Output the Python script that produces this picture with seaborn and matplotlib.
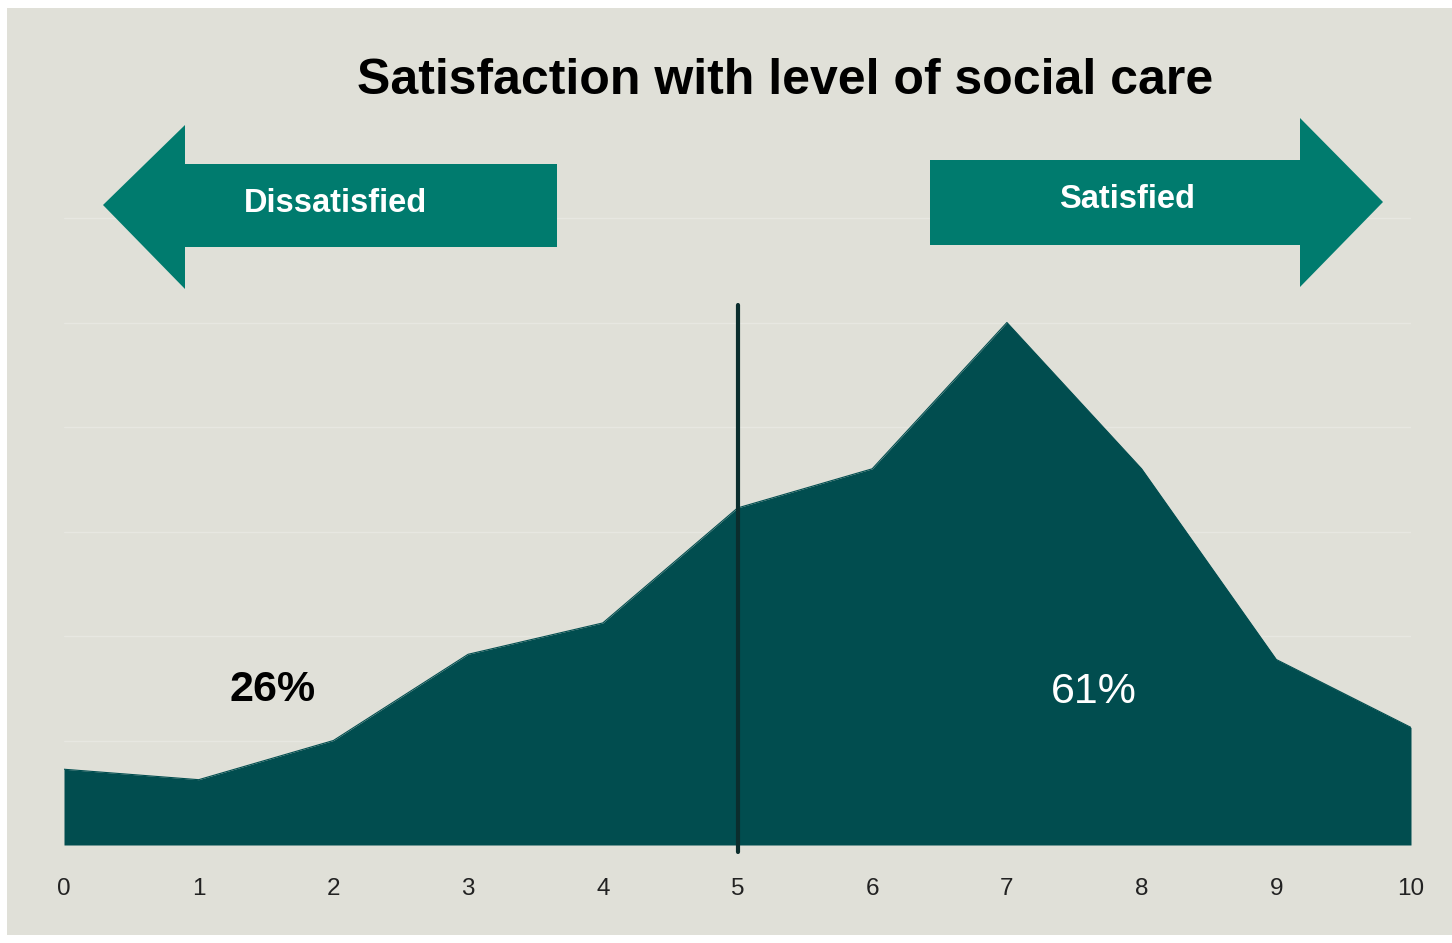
import matplotlib
matplotlib.use("Agg")
import matplotlib.pyplot as plt
from matplotlib.patches import Polygon, Rectangle
import seaborn as sns
import pandas as pd

# ---- data ----
scores = [0, 1, 2, 3, 4, 5, 6, 7, 8, 9, 10]
share_pct = [2.9, 2.5, 4.0, 7.3, 8.5, 12.9, 14.4, 20.0, 14.4, 7.1, 4.5]
tick_labels = [str(s) for s in scores]
title = "Satisfaction with level of social care"
left_label = "Dissatisfied"
right_label = "Satisfied"
dissatisfied_total = "26%"
satisfied_total = "61%"
grid_levels = [4, 8, 12, 16, 20, 24]

# ---- style ----
BG = "#e0e0d8"
AREA = "#014d4f"
ARROW = "#007b6e"
VLINE = "#0b2d2d"

sns.set_theme(style="white")
plt.rcParams["font.family"] = ["Liberation Sans", "DejaVu Sans"]

W, H = 1452, 943
fig = plt.figure(figsize=(W / 100, H / 100), dpi=100)
fig.patch.set_facecolor("white")

def fx(px):
    return px / W

def fy(py):
    return 1 - py / H

# panel background
fig.patches.append(Rectangle((fx(7), fy(935)), fx(1452) - fx(7), fy(8) - fy(935),
                             transform=fig.transFigure, facecolor=BG, edgecolor="none", zorder=-2))

ax = fig.add_axes([fx(64), fy(845), fx(1411) - fx(64), (845 - 118) / H])
ax.set_facecolor("none")
ax.set_zorder(1)

df = pd.DataFrame({"score": scores, "share": share_pct})
ax.fill_between(df["score"], 0, df["share"], color=AREA, linewidth=0, zorder=2)
sns.lineplot(data=df, x="score", y="share", ax=ax, color=AREA, linewidth=0.8, zorder=3)

ax.set_xlim(0, 10)
ax.set_ylim(0, 727 * 4 / 104.5)
ax.set_xticks(scores)
ax.set_xticklabels(tick_labels, fontsize=17.5, color="#222222")
ax.set_yticks(grid_levels)
ax.set_yticklabels([])
ax.tick_params(axis="x", length=0, pad=24)
ax.tick_params(axis="y", length=0)
ax.yaxis.grid(True, color="#e7e7e1", linewidth=1.0)
ax.set_axisbelow(True)
ax.xaxis.grid(False)
for s in ax.spines.values():
    s.set_visible(False)
ax.set_xlabel("")
ax.set_ylabel("")

# midpoint line
ax.axvline(5, ymin=(845 - 852) / 727, ymax=(845 - 305) / 727, color=VLINE,
           linewidth=3.0, clip_on=False, zorder=4)

# arrows (above gridlines)
left_pts = [(103, 205), (185, 125), (185, 164), (557, 164), (557, 247), (185, 247), (185, 289)]
right_pts = [(930, 160), (1300, 160), (1300, 118), (1383, 202), (1300, 287), (1300, 245), (930, 245)]
for pts in (left_pts, right_pts):
    ax.add_patch(Polygon([(fx(x), fy(y)) for x, y in pts], closed=True,
                         transform=fig.transFigure, facecolor=ARROW,
                         edgecolor="none", zorder=1.5, clip_on=False))

fig.text(fx(336), fy(204), left_label, ha="center", va="center", color="white",
         fontsize=23.5, fontweight="bold", zorder=5)
fig.text(fx(1127), fy(200), right_label, ha="center", va="center", color="white",
         fontsize=23.5, fontweight="bold", zorder=5)

fig.text(fx(785), fy(81), title, ha="center", va="center", color="black",
         fontsize=36, fontweight="bold", zorder=5)

fig.text(fx(273), fy(690), dissatisfied_total, ha="center", va="center", color="black",
         fontsize=31, fontweight="bold", zorder=5)
fig.text(fx(1094), fy(692), satisfied_total, ha="center", va="center", color="white",
         fontsize=31, zorder=5)

fig.savefig("out.png", dpi=100, facecolor=fig.get_facecolor())
